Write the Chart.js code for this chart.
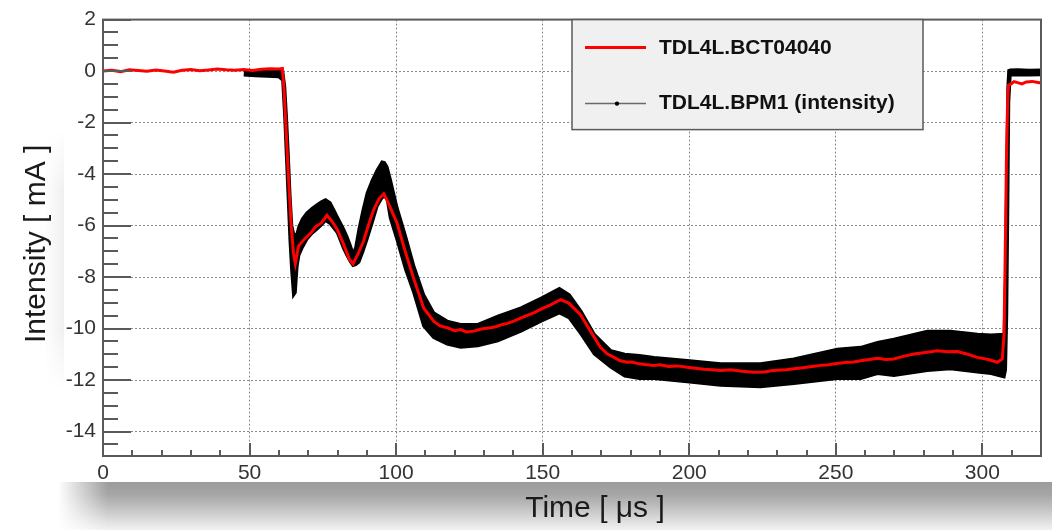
<!DOCTYPE html>
<html>
<head>
<meta charset="utf-8">
<title>TDL4L intensity</title>
<script src="https://cdn.jsdelivr.net/npm/chart.js@4.4.0/dist/chart.umd.min.js"></script>
<style>
  html, body { margin: 0; padding: 0; background: #fff; }
  body { width: 1052px; height: 530px; position: relative; overflow: hidden; }
  #shadow-bottom {
    position: absolute; left: 58px; top: 482px; width: 994px; height: 48px;
    background: linear-gradient(to bottom, #9c9c9c 0%, #a5a5a5 25%, #bdbdbd 50%, #d8d8d8 75%, #f2f2f2 100%);
    -webkit-mask-image: linear-gradient(to right, transparent 0, #000 50px);
    mask-image: linear-gradient(to right, transparent 0, #000 50px);
  }
  #shadow-left {
    position: absolute; left: 44px; top: 130px; width: 20px; height: 260px;
    background: linear-gradient(to right, rgba(0,0,0,0), rgba(0,0,0,0.06));
    -webkit-mask-image: linear-gradient(to bottom, transparent 0, #000 60px, #000 200px, transparent 260px);
    mask-image: linear-gradient(to bottom, transparent 0, #000 60px, #000 200px, transparent 260px);
  }
  #panel { position: absolute; left: 64px; top: 0; width: 988px; height: 482px; background: #fff; }
  canvas { position: absolute; left: 0; top: 0; }
</style>
</head>
<body>
<div id="shadow-bottom"></div>
<div id="shadow-left"></div>
<div id="panel"></div>
<canvas id="grafico" width="1052" height="530"></canvas>
<script>
// Axis ticks
const xMajorTicks = [0, 50, 100, 150, 200, 250, 300];
const yMajorTicks = [2, 0, -2, -4, -6, -8, -10, -12, -14];

// TDL4L.BCT04040 (red line)
const bctTime = [
  0, 3, 6, 9, 12, 15, 18, 21, 24, 27, 30, 33, 36, 39, 42, 45, 48, 51, 54, 57, 60, 61.2,
  61.8, 62.6, 63.4, 64.2, 65.0, 65.6, 66.7, 68.5, 70.8, 72.5, 74.5, 76.4, 78.2, 79.9,
  82, 84, 85.3, 87, 88.9, 90.5, 92.3, 94.2, 95.8, 96.3, 98, 100.3, 103.2, 106, 109.4,
  112.8, 115, 117.4, 120, 122, 124, 126.5, 129, 132.2, 134, 136, 138, 140.1, 143.5, 146.9,
  150, 152.7, 156.1, 158.9, 162.9, 166.3, 169.7, 172, 174.3, 176.5, 178.8, 180.5, 182.8,
  185, 187.9, 190, 193, 196, 199.3, 202, 205, 208, 210.7, 214, 218, 222, 225.5, 228,
  230, 233, 235.7, 238, 240, 242, 244.8, 247, 249, 251, 253.9, 256, 259, 261.5, 264.2,
  267, 269.8, 273, 276.7, 280.5, 284.6, 288, 291.5, 295, 298.3, 302, 305.1, 306.8,
  307.4, 307.8, 308.2, 308.6, 308.9, 310, 310.8, 312, 313.5, 315, 317, 318.5, 320
];
const bctCurrent = [
  0.0, 0.03, -0.02, 0.05, 0.02, -0.01, 0.04, 0.0, -0.04, 0.03, 0.06, 0.01, 0.04, 0.08, 0.05, 0.03, 0.06, 0.02, 0.07, 0.09, 0.08, 0.1,
  -0.8, -2.6, -4.4, -6.0, -7.1, -7.48, -6.8, -6.55, -6.3, -6.05, -5.9, -5.6, -5.85, -6.15,
  -6.7, -7.3, -7.48, -7.1, -6.6, -6.0, -5.4, -4.95, -4.77, -4.87, -5.3, -5.9, -7.04, -8.06, -9.2,
  -9.71, -9.9, -9.97, -10.08, -10.04, -10.13, -10.1, -10.02, -9.97, -9.93, -9.85, -9.8, -9.71, -9.55, -9.39,
  -9.22, -9.08, -8.88, -9.01, -9.46, -10.1, -10.73, -10.98, -11.12, -11.25, -11.31, -11.3, -11.37,
  -11.4, -11.43, -11.41, -11.47, -11.45, -11.5, -11.54, -11.58, -11.6, -11.63, -11.6, -11.66, -11.7, -11.69, -11.64,
  -11.62, -11.6, -11.56, -11.53, -11.5, -11.47, -11.43, -11.42, -11.38, -11.35, -11.31, -11.3, -11.24, -11.2, -11.15,
  -11.2, -11.18, -11.08, -10.99, -10.93, -10.86, -10.9, -10.89, -11.0, -11.12, -11.2, -11.31, -11.18,
  -10.2, -7.0, -3.5, -1.2, -0.55, -0.48, -0.41, -0.45, -0.5, -0.42, -0.4, -0.43, -0.46
];

// TDL4L.BPM1 (intensity): noisy band, upper and lower envelope
const bpmTime = [
  48, 52, 56, 60, 61.3, 62, 62.6, 63.2, 63.8, 64.4, 65.0, 65.6, 66.2, 66.8, 68.0, 69.6,
  71.3, 73.0, 74.5, 75.9, 77.5, 78.7, 79.9, 82.1, 83.3, 84.4, 85.3, 86.2, 87.3, 88.7,
  90.1, 91.8, 93.5, 95.2, 96.0, 96.9, 98.0, 100.3, 103.2, 106, 109.4, 112.8, 117.4, 122,
  127.9, 134.7, 142.6, 149.5, 155.7, 159.1, 163.1, 167.6, 173.3, 178, 183, 188, 199.3,
  210.7, 224.3, 235.7, 250.5, 258.5, 264.2, 269.8, 281.2, 289.1, 298.3, 303, 307.4,
  307.9, 308.3, 308.7, 309.0, 309.5, 312, 316, 320
];
const bpmUpper = [
  0.0, 0.02, 0.0, 0.0, 0.0, -0.6, -1.8, -3.2, -4.8, -6.0, -6.3, -6.4, -6.3, -6.05, -5.75, -5.5,
  -5.33, -5.19, -5.08, -5.0, -5.12, -5.38, -5.65, -6.14, -6.45, -6.78, -7.1, -6.85, -6.14, -5.4,
  -4.74, -4.25, -3.85, -3.53, -3.55, -3.72, -4.2, -5.3, -6.4, -7.55, -8.69, -9.39, -9.71, -9.84,
  -9.84, -9.52, -9.2, -8.82, -8.44, -8.69, -9.33, -10.22, -10.86, -11.0, -11.05, -11.12, -11.24,
  -11.37, -11.37, -11.18, -10.8, -10.73, -10.54, -10.41, -10.1, -10.1, -10.22, -10.25, -10.22,
  -8.0, -4.0, -0.6, 0.02, 0.04, 0.05, 0.03, 0.04
];
const bpmLower = [
  -0.15, -0.18, -0.2, -0.22, -0.35, -1.8, -3.4, -5.0, -6.6, -7.8, -8.7, -8.6, -7.6, -7.16, -6.85, -6.52,
  -6.3, -6.14, -5.98, -5.8, -5.92, -6.1, -6.27, -6.9, -7.17, -7.4, -7.55, -7.52, -7.42, -7.0,
  -6.52, -5.9, -5.25, -4.92, -4.87, -4.95, -5.7, -6.55, -7.7, -8.6, -9.9, -10.35, -10.6, -10.73,
  -10.67, -10.48, -10.1, -9.71, -9.39, -9.59, -10.22, -10.99, -11.5, -11.85, -11.94, -11.94, -12.07,
  -12.2, -12.26, -12.13, -11.94, -11.94, -11.75, -11.82, -11.63, -11.56, -11.69, -11.75, -11.88,
  -11.6, -9.5, -5.0, -1.2, -0.15, -0.14, -0.15, -0.14
];

const FONT = '"Liberation Sans", Arial, Helvetica, sans-serif';

function toPoints(xs, ys) {
  return xs.map((v, i) => ({ x: v, y: ys[i] }));
}

// Frame and ROOT-style inward ticks
const frameTicksPlugin = {
  id: 'frameTicks',
  afterDatasetsDraw(chart) {
    const { ctx, chartArea: a, scales: { x, y } } = chart;
    ctx.save();
    ctx.strokeStyle = '#5a5a5a';
    ctx.lineWidth = 2;
    ctx.beginPath();
    for (let v = 2; v >= -14.9; v -= 0.5) {
      const py = Math.round(y.getPixelForValue(v));
      const len = yMajorTicks.includes(v) ? 28 : 15;
      ctx.moveTo(a.left, py);
      ctx.lineTo(a.left + len, py);
    }
    for (let v = 0; v <= 320; v += 10) {
      const px = Math.round(x.getPixelForValue(v));
      const len = xMajorTicks.includes(v) ? 13 : 6;
      ctx.moveTo(px, a.bottom);
      ctx.lineTo(px, a.bottom - len);
    }
    ctx.stroke();
    ctx.strokeRect(a.left, a.top, a.right - a.left, a.bottom - a.top);
    ctx.restore();
  }
};

// Legend box inside the plot
const legendBoxPlugin = {
  id: 'legendBox',
  afterDraw(chart) {
    const { ctx, chartArea: a } = chart;
    const left = 572, top = a.top, w = 351, h = 110;
    ctx.save();
    ctx.fillStyle = '#f0f0f0';
    ctx.fillRect(left, top, w, h);
    ctx.strokeStyle = '#5a5a5a';
    ctx.lineWidth = 1.5;
    ctx.strokeRect(left, top, w, h);

    // red entry
    ctx.strokeStyle = '#ff0000';
    ctx.lineWidth = 3;
    ctx.beginPath();
    ctx.moveTo(left + 13, top + 28);
    ctx.lineTo(left + 74, top + 28);
    ctx.stroke();

    // black entry
    ctx.strokeStyle = '#6a6a6a';
    ctx.lineWidth = 1.5;
    ctx.beginPath();
    ctx.moveTo(left + 13, top + 84);
    ctx.lineTo(left + 74, top + 84);
    ctx.stroke();
    ctx.fillStyle = '#000';
    ctx.beginPath();
    ctx.arc(left + 45, top + 84, 2.2, 0, Math.PI * 2);
    ctx.fill();

    ctx.fillStyle = '#111';
    ctx.font = 'bold 21px ' + FONT;
    ctx.textBaseline = 'middle';
    ctx.fillText(chart.data.datasets[0].label, left + 87, top + 29);
    ctx.fillText(chart.data.datasets[1].label, left + 87, top + 84);
    ctx.restore();
  }
};

// Axis titles
const axisTitlesPlugin = {
  id: 'axisTitles',
  afterDraw(chart) {
    const { ctx, chartArea: a } = chart;
    ctx.save();
    ctx.fillStyle = '#1a1a1a';
    ctx.font = '30px ' + FONT;
    ctx.textAlign = 'center';
    ctx.textBaseline = 'middle';
    ctx.fillText('Time [ \u03bcs ]', (a.left + a.right) / 2 + 23, 509);
    ctx.translate(37, (a.top + a.bottom) / 2 + 6);
    ctx.rotate(-Math.PI / 2);
    ctx.fillText('Intensity [ mA ]', 0, 0);
    ctx.restore();
  }
};

const ctx = document.getElementById('grafico').getContext('2d');

const chart = new Chart(ctx, {
  type: 'line',
  data: {
    datasets: [
      {
        label: 'TDL4L.BCT04040',
        data: toPoints(bctTime, bctCurrent),
        borderColor: '#ff0000',
        borderWidth: 3,
        pointRadius: 0,
        fill: false
      },
      {
        label: 'TDL4L.BPM1 (intensity)',
        data: toPoints(bpmTime, bpmUpper),
        borderColor: '#000',
        backgroundColor: '#000',
        borderWidth: 3,
        pointRadius: 0,
        fill: '+1'
      },
      {
        label: 'BPM1 lower',
        data: toPoints(bpmTime, bpmLower),
        borderColor: '#000',
        borderWidth: 3,
        pointRadius: 0,
        fill: false
      }
    ]
  },
  options: {
    responsive: false,
    animation: false,
    layout: { padding: { left: 0, right: 11, top: 13, bottom: 0 } },
    plugins: {
      legend: { display: false },
      tooltip: { enabled: false }
    },
    scales: {
      x: {
        type: 'linear',
        min: 0,
        max: 320,
        afterBuildTicks: s => { s.ticks = xMajorTicks.map(v => ({ value: v })); },
        afterFit: s => { s.height = 74; },
        grid: { color: '#8c8c8c', lineWidth: 1, drawTicks: false },
        border: { display: false, dash: [2, 2] },
        ticks: { padding: 5, color: '#333', font: { family: FONT, size: 21 }, maxRotation: 0, autoSkip: false }
      },
      y: {
        type: 'linear',
        min: -14.95,
        max: 2,
        afterBuildTicks: s => { s.ticks = yMajorTicks.map(v => ({ value: v })); },
        afterFit: s => { s.width = 103; },
        grid: { color: '#8c8c8c', lineWidth: 1, drawTicks: false },
        border: { display: false, dash: [2, 2] },
        ticks: { padding: 7, color: '#333', font: { family: FONT, size: 21 }, autoSkip: false }
      }
    }
  },
  plugins: [frameTicksPlugin, legendBoxPlugin, axisTitlesPlugin]
});
</script>
</body>
</html>
